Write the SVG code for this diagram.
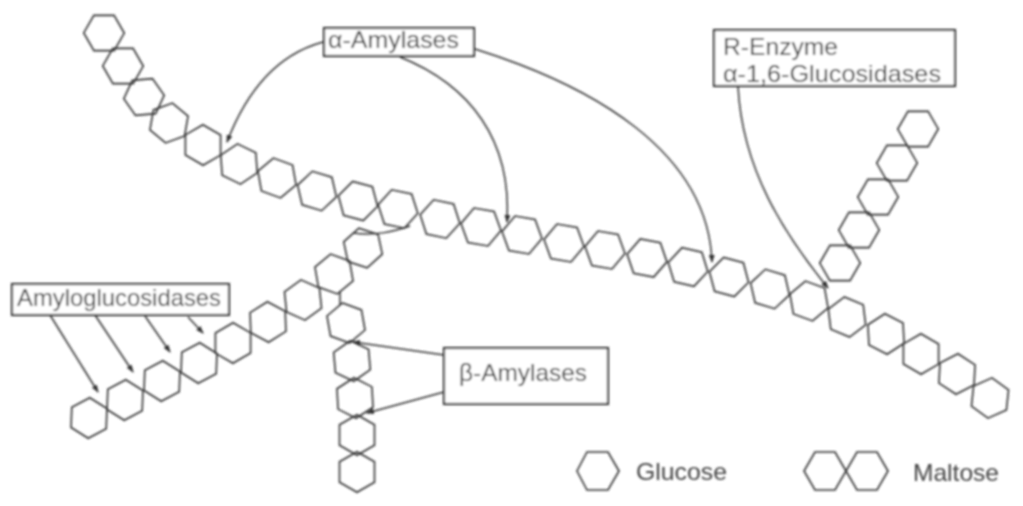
<svg xmlns="http://www.w3.org/2000/svg" width="1023" height="506" viewBox="0 0 1023 506">
<style>
.h{fill:none;stroke:#333;stroke-width:1.6}
.b{fill:#fff;stroke:#333;stroke-width:2.2}
.c{fill:none;stroke:#333;stroke-width:1.5}
text{font-family:"Liberation Sans",Arial,sans-serif;font-size:24px;fill:#444}
</style>
<defs>
<polygon id="hex" points="20.3,0 10.2,17.5 -10.2,17.5 -20.3,0 -10.2,-17.5 10.2,-17.5"/>
<marker id="a" markerWidth="8" markerHeight="6" refX="7" refY="3" orient="auto" markerUnits="userSpaceOnUse"><path d="M0 0L8 3L0 6z" fill="#333"/></marker>
<filter id="soft" x="0" y="0" width="1023" height="506" filterUnits="userSpaceOnUse"><feGaussianBlur stdDeviation="0.8"/></filter>
</defs>
<rect width="1023" height="506" fill="#fff"/>
<g filter="url(#soft)">
<g id="main-chain" class="h">
<g id="g1"><use href="#hex" transform="translate(104 33) rotate(60)"/></g>
<g id="g2"><use href="#hex" transform="translate(123 66) rotate(60)"/></g>
<g id="g3"><use href="#hex" transform="translate(144 97) rotate(55)"/></g>
<g id="g4"><use href="#hex" transform="translate(169 123) rotate(40)"/></g>
<g id="g5"><use href="#hex" transform="translate(203 145) rotate(30)"/></g>
<g id="g6"><use href="#hex" transform="translate(239 164) rotate(26)"/></g>
<g id="g7"><use href="#hex" transform="translate(277 178) rotate(20)"/></g>
<g id="g8"><use href="#hex" transform="translate(317 191) rotate(17)"/></g>
<g id="g9"><use href="#hex" transform="translate(358 201) rotate(15)"/></g>
<g id="g10"><use href="#hex" transform="translate(398 209) rotate(12)"/></g>
<g id="g11"><use href="#hex" transform="translate(440 219) rotate(12)"/></g>
<g id="g12"><use href="#hex" transform="translate(481 227) rotate(10)"/></g>
<g id="g13"><use href="#hex" transform="translate(522 235) rotate(10)"/></g>
<g id="g14"><use href="#hex" transform="translate(564 243) rotate(10)"/></g>
<g id="g15"><use href="#hex" transform="translate(605 250) rotate(10)"/></g>
<g id="g16"><use href="#hex" transform="translate(647 258) rotate(11)"/></g>
<g id="g17"><use href="#hex" transform="translate(688 267) rotate(13)"/></g>
<g id="g18"><use href="#hex" transform="translate(729 277) rotate(15)"/></g>
<g id="g19"><use href="#hex" transform="translate(770 289) rotate(17)"/></g>
<g id="g20"><use href="#hex" transform="translate(809 301) rotate(20)"/></g>
<g id="g21"><use href="#hex" transform="translate(847 317) rotate(23)"/></g>
<g id="g22"><use href="#hex" transform="translate(886 334) rotate(27)"/></g>
<g id="g23"><use href="#hex" transform="translate(921 354) rotate(30)"/></g>
<g id="g24"><use href="#hex" transform="translate(957 374) rotate(33)"/></g>
<g id="g25"><use href="#hex" transform="translate(990 398) rotate(36)"/></g>
</g>
<g id="right-branch" class="h">
<g id="r1"><use href="#hex" transform="translate(918 129) rotate(-60)"/></g>
<g id="r2"><use href="#hex" transform="translate(897 163) rotate(-60)"/></g>
<g id="r3"><use href="#hex" transform="translate(878 197) rotate(-60)"/></g>
<g id="r4"><use href="#hex" transform="translate(859 230) rotate(-60)"/></g>
<g id="r5"><use href="#hex" transform="translate(840 263) rotate(-60)"/></g>
</g>
<g id="left-branch" class="h">
<g id="l1"><use href="#hex" transform="translate(89 418) rotate(-28)"/></g>
<g id="l2"><use href="#hex" transform="translate(125 400) rotate(-28)"/></g>
<g id="l3"><use href="#hex" transform="translate(162 381) rotate(-28)"/></g>
<g id="l4"><use href="#hex" transform="translate(199 363) rotate(-28)"/></g>
<g id="l5"><use href="#hex" transform="translate(233 343) rotate(-30)"/></g>
<g id="l6"><use href="#hex" transform="translate(268 322) rotate(-32)"/></g>
<g id="l7"><use href="#hex" transform="translate(303 300) rotate(-36)"/></g>
<g id="l8"><use href="#hex" transform="translate(334 274) rotate(-40)"/></g>
<g id="l9"><use href="#hex" transform="translate(363 248) rotate(-42)"/></g>
</g>
<g id="down-branch" class="h">
<g id="d1"><use href="#hex" transform="translate(346 323) rotate(80)"/></g>
<g id="d2"><use href="#hex" transform="translate(352 361) rotate(85)"/></g>
<g id="d3"><use href="#hex" transform="translate(355 398) rotate(87)"/></g>
<g id="d4"><use href="#hex" transform="translate(357 435) rotate(90)"/></g>
<g id="d5"><use href="#hex" transform="translate(357 472) rotate(90)"/></g>
</g>
<g id="connectors" class="c">
<path d="M353 233C375 236 392 232 410 226"/>
<path d="M340 291V305"/>
<path d="M323 42C275 55 245 95 227 142" marker-end="url(#a)"/>
<path d="M400 57C470 85 512 140 507 222" marker-end="url(#a)"/>
<path d="M475 49C590 85 708 150 712 262" marker-end="url(#a)"/>
<path d="M738 86C742 170 785 235 828 288" marker-end="url(#a)"/>
<path d="M50 315L98 392" marker-end="url(#a)"/>
<path d="M95 315L133 372" marker-end="url(#a)"/>
<path d="M145 316L170 352" marker-end="url(#a)"/>
<path d="M188 317L203 333" marker-end="url(#a)"/>
<path d="M444 355L353 342" marker-end="url(#a)"/>
<path d="M444 392L367 413" marker-end="url(#a)"/>
</g>
<g id="alpha-amylases"><rect class="b" x="324" y="28" width="150" height="28"/><text x="328" y="48" textLength="131" lengthAdjust="spacingAndGlyphs">α-Amylases</text></g>
<g id="r-enzyme"><rect class="b" x="714" y="30" width="241" height="56"/><text x="723" y="55" textLength="115" lengthAdjust="spacingAndGlyphs">R-Enzyme</text><text x="723" y="82" textLength="218" lengthAdjust="spacingAndGlyphs">α-1,6-Glucosidases</text></g>
<g id="amyloglucosidases"><rect class="b" x="12" y="284" width="217" height="31"/><text x="17" y="306" textLength="204" lengthAdjust="spacingAndGlyphs">Amyloglucosidases</text></g>
<g id="beta-amylases"><rect class="b" x="444" y="348" width="164" height="56"/><text x="459" y="381" textLength="128" lengthAdjust="spacingAndGlyphs">β-Amylases</text></g>
<g id="legend-glucose"><polygon class="h" points="619,471 608,452 587,452 577,471 587,490 608,490"/><text x="636" y="480" textLength="91" lengthAdjust="spacingAndGlyphs">Glucose</text></g>
<g id="legend-maltose"><polygon class="h" points="846,471 835,452 815,452 804,471 815,490 835,490"/><polygon class="h" points="888,471 877,452 857,452 846,471 857,490 877,490"/><text x="913" y="481" textLength="86" lengthAdjust="spacingAndGlyphs">Maltose</text></g>
</g>
</svg>
